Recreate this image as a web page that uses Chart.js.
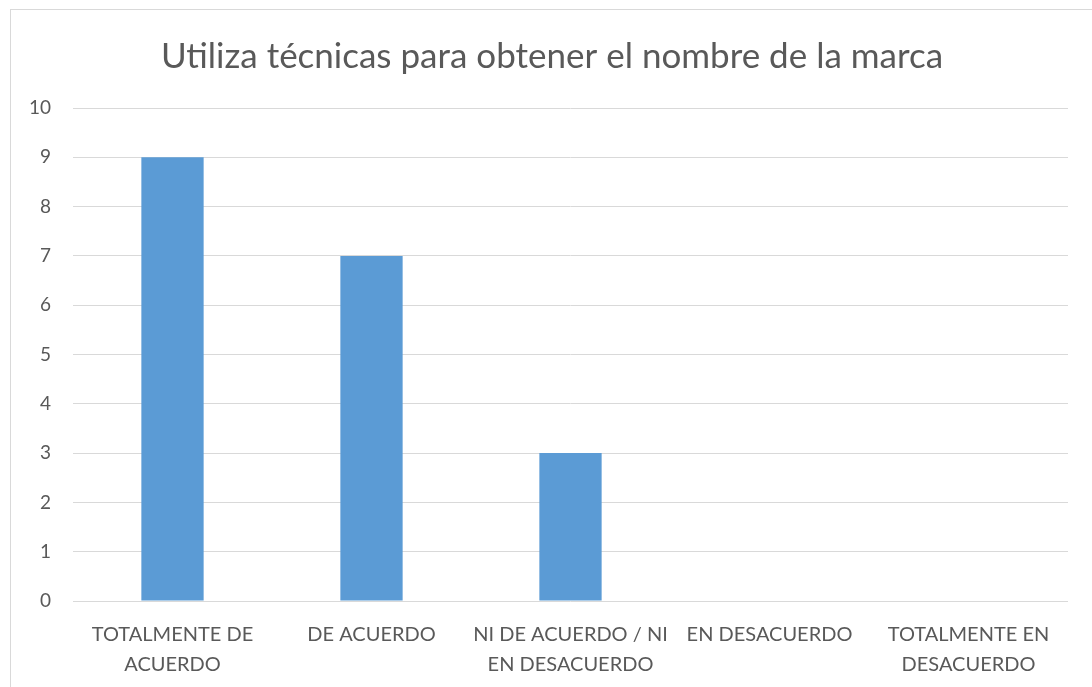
<!DOCTYPE html>
<html>
<head>
<meta charset="utf-8">
<script src="https://cdn.jsdelivr.net/npm/chart.js@4"></script>
<style>
  html, body { margin: 0; padding: 0; background: #ffffff; overflow: hidden; }
  #wrap { position: relative; width: 1092px; height: 687px; }
  #frame { position: absolute; left: 10px; top: 9px; width: 1100px; height: 700px; border: 1px solid #d9d9d9; box-sizing: border-box; pointer-events: none; }
  canvas { position: absolute; left: 0; top: 0; }
</style>
</head>
<body>
<div id="wrap">
  <canvas id="c" width="1092" height="687"></canvas>
  <div id="frame"></div>
</div>
<script>
const chartTitle = "Utiliza técnicas para obtener el nombre de la marca";
const categories = [
  ["TOTALMENTE DE", "ACUERDO"],
  ["DE ACUERDO"],
  ["NI DE ACUERDO / NI", "EN DESACUERDO"],
  ["EN DESACUERDO"],
  ["TOTALMENTE EN", "DESACUERDO"]
];
const values = [9, 7, 3, 0, 0];
const yTicks = [0, 1, 2, 3, 4, 5, 6, 7, 8, 9, 10];

const FONT = "Lato, 'Open Sans', sans-serif";

// Shift the title block so it is centred like the reference (over the whole frame)
const titleShift = {
  id: 'titleShift',
  afterLayout(chart) {
    const t = chart.titleBlock;
    if (t) { t.left += 18; t.right += 18; }
  }
};

new Chart(document.getElementById('c'), {
  type: 'bar',
  data: {
    labels: categories,
    datasets: [{
      data: values,
      backgroundColor: '#5B9BD5',
      borderWidth: 0,
      categoryPercentage: 1.0,
      barPercentage: 0.313
    }]
  },
  options: {
    responsive: false,
    animation: false,
    devicePixelRatio: 1,
    layout: { padding: { left: 0, right: 24, top: 0, bottom: 0 } },
    plugins: {
      legend: { display: false },
      tooltip: { enabled: false },
      title: {
        display: true,
        text: chartTitle,
        color: '#595959',
        font: { family: FONT, size: 35, weight: 'normal', lineHeight: 1.2 },
        padding: { top: 36, bottom: 30 }
      }
    },
    scales: {
      x: {
        grid: { display: false },
        border: { display: false },
        ticks: {
          color: '#595959',
          font: { family: FONT, size: 20, lineHeight: 1.5 },
          maxRotation: 0,
          autoSkip: false,
          padding: 11
        },
        afterFit: (s) => { s.height = 86; }
      },
      y: {
        min: 0,
        max: 10,
        afterBuildTicks: (s) => { s.ticks = yTicks.map(v => ({ value: v })); },
        grid: { color: '#d9d9d9', lineWidth: 1, drawTicks: false },
        border: { display: false },
        ticks: {
          color: '#595959',
          font: { family: FONT, size: 19 },
          padding: 22
        },
        afterFit: (s) => { s.width = 73; }
      }
    }
  },
  plugins: [titleShift]
});
</script>
</body>
</html>
